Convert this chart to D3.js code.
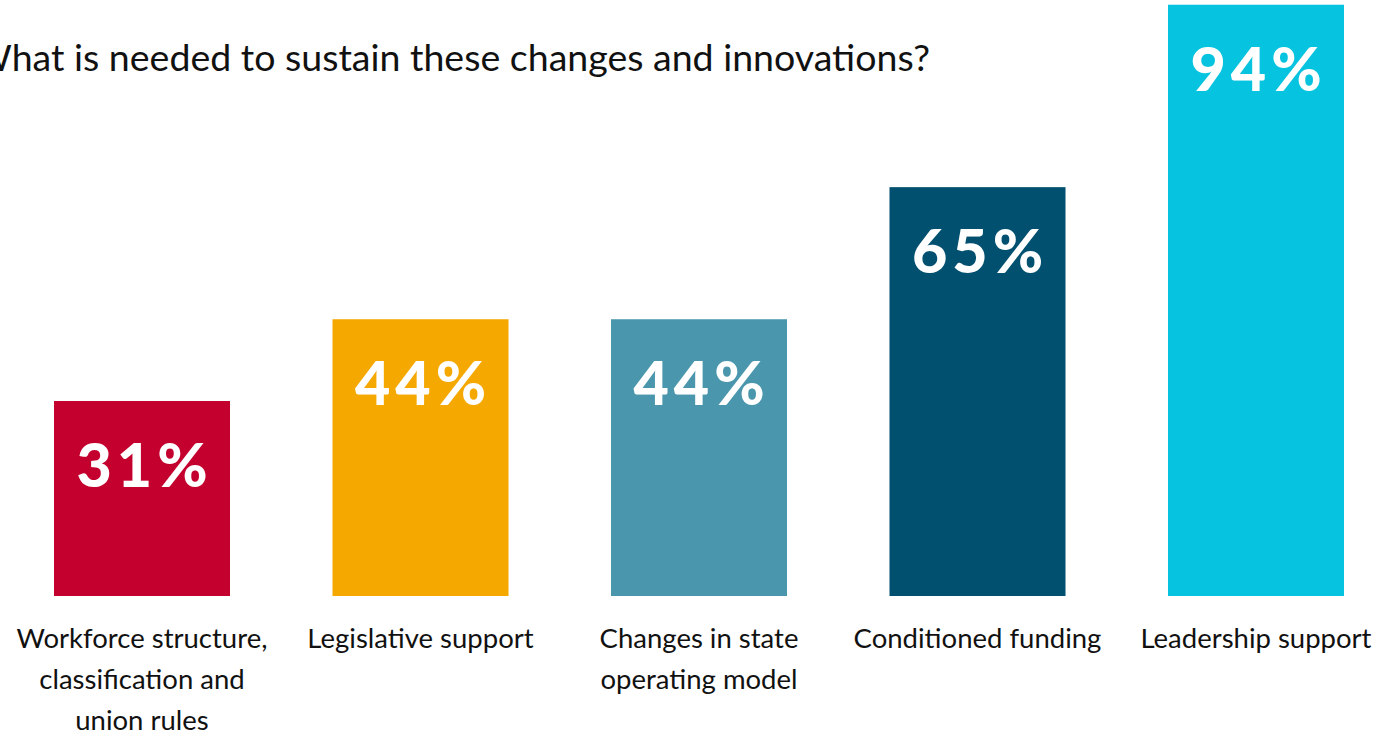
<!DOCTYPE html>
<html>
<head>
<meta charset="utf-8">
<script src="https://cdn.jsdelivr.net/npm/d3@7"></script>
<style>
  html, body { margin: 0; padding: 0; background: #ffffff; overflow: hidden; }
  svg { display: block; }
</style>
</head>
<body>
<svg id="chart" width="1379" height="734"></svg>
<script>
// Survey responses: what is needed to sustain changes and innovations
const titleText = "What is needed to sustain these changes and innovations?";
const categories = [
  ["Workforce structure,", "classification and", "union rules"],
  ["Legislative support"],
  ["Changes in state", "operating model"],
  ["Conditioned funding"],
  ["Leadership support"]
];
const values = [31, 44, 44, 65, 94];
const barColors = ["#C4002F", "#F4A800", "#4A97AD", "#01506F", "#06C3DF"];

const W = 1379, H = 734;
const svg = d3.select("#chart");

const x = d3.scaleBand()
  .domain(d3.range(values.length))
  .range([54, 1344])
  .paddingInner(0.368)
  .paddingOuter(0);

const y = d3.scaleLinear()
  .domain([0, 100])
  .range([596, -33]);

// Title
svg.append("text")
  .attr("x", 930)
  .attr("y", 71)
  .attr("text-anchor", "end")
  .attr("font-family", "Lato, 'Open Sans', sans-serif")
  .attr("font-size", 37.5)
  .attr("fill", "#111")
  .text(titleText);

// Value labels inside bars
const valueSpacing = 5;

// Bars
svg.append("g").selectAll("rect")
  .data(values)
  .join("rect")
  .attr("x", (d, i) => x(i))
  .attr("width", x.bandwidth())
  .attr("y", d => y(d))
  .attr("height", d => y(0) - y(d))
  .attr("fill", (d, i) => barColors[i]);

svg.append("g").selectAll("text")
  .data(values)
  .join("text")
  .attr("x", (d, i) => x(i) + x.bandwidth() / 2 + valueSpacing / 2)
  .attr("y", d => y(d) + 86)
  .attr("text-anchor", "middle")
  .attr("font-family", "Lato, 'Open Sans', sans-serif")
  .attr("font-weight", 900)
  .attr("font-size", 61)
  .attr("letter-spacing", valueSpacing)
  .attr("fill", "#ffffff")
  .text(d => d + "%");

// Category labels under bars
const cat = svg.append("g").selectAll("text")
  .data(categories)
  .join("text")
  .attr("x", (d, i) => x(i) + x.bandwidth() / 2)
  .attr("y", 648)
  .attr("text-anchor", "middle")
  .attr("font-family", "Lato, 'Open Sans', sans-serif")
  .attr("font-size", 27.5)
  .attr("fill", "#111");

cat.selectAll("tspan")
  .data(d => d)
  .join("tspan")
  .attr("x", function() { return d3.select(this.parentNode).attr("x"); })
  .attr("dy", (d, i) => i === 0 ? 0 : 41)
  .text(d => d);
</script>
</body>
</html>
